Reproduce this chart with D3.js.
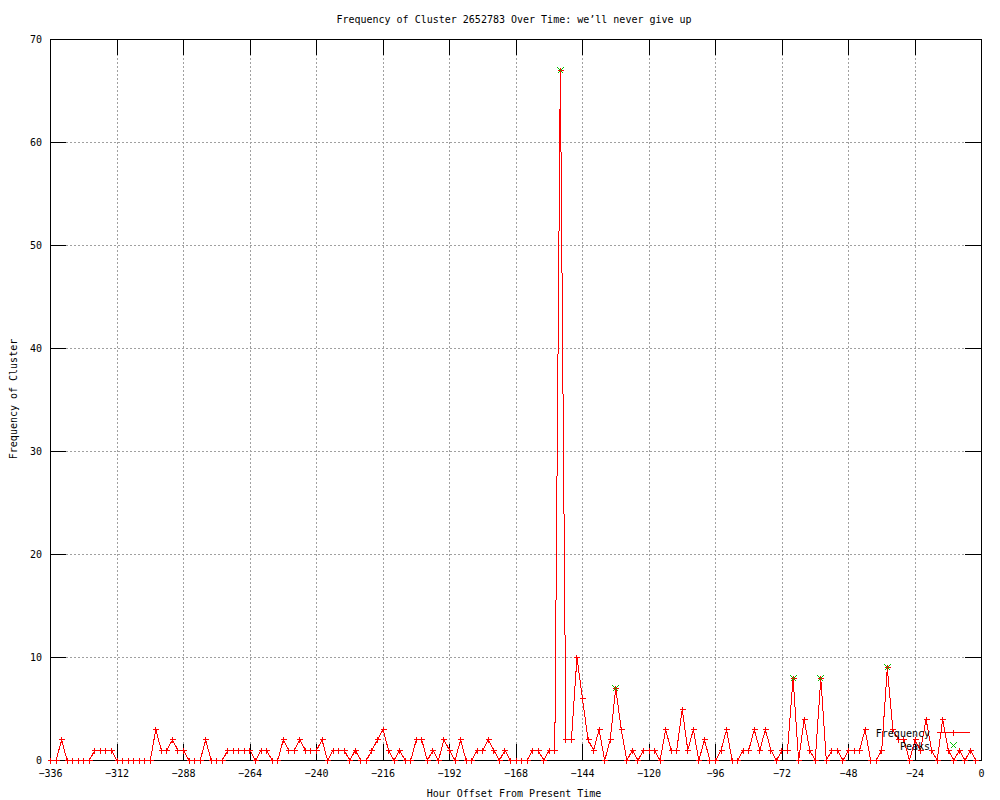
<!DOCTYPE html>
<html>
<head>
<meta charset="utf-8">
<script src="https://cdn.jsdelivr.net/npm/d3@7"></script>
<style>
  body { margin: 0; background: #fff; }
  svg text { font-family: "DejaVu Sans Mono", monospace; font-size: 10px; fill: #000; }
</style>
</head>
<body>
<svg id="chart" width="1000" height="800"></svg>
<script>
// hour offsets, one sample every 2 hours
const hours = [
  -336,-334,-332,-330,-328,-326,-324,-322,-320,-318,-316,-314,
  -312,-310,-308,-306,-304,-302,-300,-298,-296,-294,-292,-290,
  -288,-286,-284,-282,-280,-278,-276,-274,-272,-270,-268,-266,
  -264,-262,-260,-258,-256,-254,-252,-250,-248,-246,-244,-242,
  -240,-238,-236,-234,-232,-230,-228,-226,-224,-222,-220,-218,
  -216,-214,-212,-210,-208,-206,-204,-202,-200,-198,-196,-194,
  -192,-190,-188,-186,-184,-182,-180,-178,-176,-174,-172,-170,
  -168,-166,-164,-162,-160,-158,-156,-154,-152,-150,-148,-146,
  -144,-142,-140,-138,-136,-134,-132,-130,-128,-126,-124,-122,
  -120,-118,-116,-114,-112,-110,-108,-106,-104,-102,-100,-98,
  -96,-94,-92,-90,-88,-86,-84,-82,-80,-78,-76,-74,
  -72,-70,-68,-66,-64,-62,-60,-58,-56,-54,-52,-50,
  -48,-46,-44,-42,-40,-38,-36,-34,-32,-30,-28,-26,
  -24,-22,-20,-18,-16,-14,-12,-10,-8,-6,-4,-2
];
const counts = [
  0,0,2,0,0,0,0,0,1,1,1,1,
  0,0,0,0,0,0,0,3,1,1,2,1,
  1,0,0,0,2,0,0,0,1,1,1,1,
  1,0,1,1,0,0,2,1,1,2,1,1,
  1,2,0,1,1,1,0,1,0,0,1,2,
  3,1,0,1,0,0,2,2,0,1,0,2,
  1,0,2,0,0,1,1,2,1,0,1,0,
  0,0,0,1,1,0,1,1,67,2,2,10,
  6,2,1,3,0,2,7,3,0,1,0,1,
  1,1,0,3,1,1,5,1,3,0,2,0,
  0,1,3,0,0,1,1,3,1,3,1,0,
  1,1,8,0,4,1,0,8,0,1,1,0,
  1,1,1,3,0,0,1,9,3,2,2,0,
  2,1,4,1,0,4,1,0,1,0,1,0
];
const peakHours = [-152, -132, -68, -58, -34];
const peakCounts = [67, 7, 8, 8, 9];

const xTicks = [-336,-312,-288,-264,-240,-216,-192,-168,-144,-120,-96,-72,-48,-24,0];
const yTicks = [0,10,20,30,40,50,60,70];

const plotLeft = 50, plotRight = 981, plotTop = 39, plotBottom = 760;
const tickLen = 16;

const svg = d3.select("#chart");

const x = d3.scaleLinear().domain([-336, 0]).range([plotLeft, plotRight]);
const y = d3.scaleLinear().domain([0, 70]).range([plotBottom, plotTop]);

// grid
svg.append("g")
    .attr("class", "grid")
    .attr("transform", `translate(0,${plotBottom})`)
    .call(d3.axisBottom(x).tickValues(xTicks.slice(1, -1)).tickSize(-(plotBottom - plotTop)).tickFormat(""));
svg.append("g")
    .attr("class", "grid")
    .attr("transform", `translate(${plotLeft},0)`)
    .call(d3.axisLeft(y).tickValues(yTicks.slice(1, -1)).tickSize(-(plotRight - plotLeft)).tickFormat(""));
svg.selectAll(".grid .domain").remove();
svg.selectAll(".grid line")
    .attr("stroke", "#a0a0a0")
    .attr("stroke-dasharray", "2,2")
    .attr("shape-rendering", "crispEdges");

// axes with inward ticks, mirrored on top and right
const xAxis = svg.append("g")
    .attr("transform", `translate(0,${plotBottom})`)
    .call(d3.axisBottom(x).tickValues(xTicks).tickSize(-tickLen).tickPadding(10));
const yAxis = svg.append("g")
    .attr("transform", `translate(${plotLeft},0)`)
    .call(d3.axisLeft(y).tickValues(yTicks).tickSize(-tickLen).tickPadding(8));
const xTop = svg.append("g")
    .attr("transform", `translate(0,${plotTop})`)
    .call(d3.axisTop(x).tickValues(xTicks).tickSize(-tickLen).tickFormat(""));
const yRight = svg.append("g")
    .attr("transform", `translate(${plotRight},0)`)
    .call(d3.axisRight(y).tickValues(yTicks).tickSize(-tickLen).tickFormat(""));

[xAxis, yAxis, xTop, yRight].forEach(g => {
  g.attr("font-family", null).attr("font-size", null);
  g.select(".domain").remove();
  g.selectAll("line").attr("stroke", "#000").attr("shape-rendering", "crispEdges");
});

svg.append("rect")
    .attr("x", plotLeft + 0.5).attr("y", plotTop + 0.5)
    .attr("width", plotRight - plotLeft).attr("height", plotBottom - plotTop)
    .attr("fill", "none").attr("stroke", "#000")
    .attr("shape-rendering", "crispEdges");

// data
const rows = hours.map((h, i) => ({h: h, c: counts[i]}));
const peaks = peakHours.map((h, i) => ({h: h, c: peakCounts[i]}));

const plot = svg.append("g").attr("transform", "translate(0.5,0.5)");

const line = d3.line().x(d => x(d.h)).y(d => y(d.c));
plot.append("path")
    .datum(rows)
    .attr("d", line)
    .attr("fill", "none")
    .attr("stroke", "#ff0000")
    .attr("stroke-width", 1)
    .attr("shape-rendering", "crispEdges");

const plus = "M-3,0H3M0,-3V3";
const cross = "M-3,-3L3,3M-3,3L3,-3";

plot.append("g").selectAll("path")
    .data(rows)
    .enter().append("path")
    .attr("transform", d => `translate(${Math.round(x(d.h))},${Math.round(y(d.c))})`)
    .attr("d", plus)
    .attr("stroke", "#ff0000")
    .attr("fill", "none")
    .attr("shape-rendering", "crispEdges");

plot.append("g").selectAll("path")
    .data(peaks)
    .enter().append("path")
    .attr("transform", d => `translate(${Math.round(x(d.h))},${Math.round(y(d.c))})`)
    .attr("d", cross)
    .attr("stroke", "#00c000")
    .attr("fill", "none")
    .attr("shape-rendering", "crispEdges");

// legend
const legend = svg.append("g");
legend.append("text").attr("x", 930).attr("y", 733)
    .attr("text-anchor", "end").attr("dominant-baseline", "central").text("Frequency");
legend.append("path").attr("d", "M937,732.5H970").attr("stroke", "#ff0000")
    .attr("shape-rendering", "crispEdges");
legend.append("path").attr("transform", "translate(953.5,732.5)").attr("d", plus)
    .attr("stroke", "#ff0000").attr("shape-rendering", "crispEdges");
legend.append("text").attr("x", 930).attr("y", 746)
    .attr("text-anchor", "end").attr("dominant-baseline", "central").text("Peaks");
legend.append("path").attr("transform", "translate(953.5,745.5)").attr("d", cross)
    .attr("stroke", "#00c000").attr("fill", "none").attr("shape-rendering", "crispEdges");

// titles
svg.append("text").attr("x", 514).attr("y", 19.5)
    .attr("text-anchor", "middle").attr("dominant-baseline", "central")
    .text("Frequency of Cluster 2652783 Over Time: we\u2019ll never give up");
svg.append("text").attr("x", 514).attr("y", 793)
    .attr("text-anchor", "middle").attr("dominant-baseline", "central")
    .text("Hour Offset From Present Time");
svg.append("text").attr("transform", "translate(13,399) rotate(-90)")
    .attr("text-anchor", "middle").attr("dominant-baseline", "central")
    .text("Frequency of Cluster");
</script>
</body>
</html>
